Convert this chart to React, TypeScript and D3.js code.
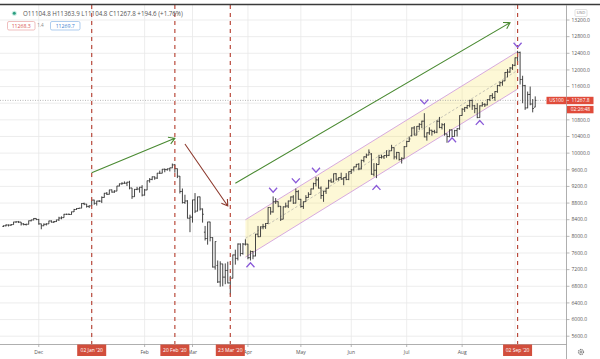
import React from 'react';
import * as d3 from 'd3';

// ---- DATA: daily bars [open, high, low, close] ----
const nov19 = [
  [8240, 8262, 8225, 8254], [8254, 8290, 8240, 8272], [8272, 8285, 8238, 8270], [8270, 8290, 8250, 8283],
  [8283, 8350, 8280, 8345], [8345, 8360, 8325, 8350], [8350, 8370, 8320, 8342], [8342, 8345, 8260, 8300],
  [8300, 8315, 8265, 8285], [8285, 8305, 8260, 8290], [8290, 8380, 8288, 8375], [8375, 8400, 8360, 8395],
  [8395, 8440, 8385, 8430], [8430, 8432, 8390, 8404],
];
const dec19 = [
  [8404, 8420, 8280, 8300], [8300, 8305, 8170, 8255], [8255, 8310, 8245, 8290], [8290, 8315, 8260, 8300],
  [8300, 8375, 8298, 8370], [8370, 8385, 8330, 8340], [8340, 8370, 8320, 8355], [8355, 8400, 8345, 8395],
  [8395, 8470, 8370, 8440], [8440, 8480, 8410, 8450], [8450, 8540, 8448, 8530], [8530, 8545, 8515, 8530],
  [8530, 8550, 8520, 8525], [8525, 8595, 8520, 8590], [8590, 8660, 8585, 8645], [8645, 8680, 8635, 8670],
  [8670, 8685, 8660, 8678], [8678, 8800, 8675, 8790], [8790, 8810, 8750, 8775], [8775, 8780, 8690, 8720],
  [8720, 8745, 8680, 8733],
];
const jan20 = [
  [8733, 8875, 8730, 8872], [8872, 8880, 8760, 8793], [8793, 8855, 8740, 8848], [8848, 8870, 8825, 8846],
  [8846, 8960, 8800, 8935], [8935, 9045, 8930, 9035], [9035, 9065, 8995, 9011], [9011, 9120, 9005, 9117],
  [9117, 9125, 9050, 9064], [9064, 9110, 9045, 9088], [9088, 9212, 9085, 9209], [9209, 9270, 9200, 9263],
  [9263, 9300, 9240, 9274], [9274, 9320, 9265, 9277], [9277, 9310, 9210, 9302], [9302, 9335, 9130, 9162],
  [9162, 9165, 8900, 8953], [8953, 9140, 8950, 9128], [9128, 9190, 9110, 9137], [9137, 9190, 9050, 9180],
  [9180, 9230, 8960, 8991],
];
const feb20 = [
  [8991, 9140, 8980, 9115], [9115, 9340, 9110, 9336], [9336, 9400, 9290, 9370], [9370, 9440, 9350, 9431],
  [9431, 9440, 9360, 9401], [9401, 9525, 9380, 9518], [9518, 9580, 9500, 9517], [9517, 9620, 9515, 9613],
  [9613, 9630, 9540, 9604], [9604, 9630, 9580, 9623], [9623, 9650, 9560, 9646], [9646, 9750, 9640, 9718],
  [9718, 9740, 9530, 9627], [9627, 9630, 9400, 9446], [9446, 9450, 9030, 9079], [9079, 9150, 8790, 8812],
  [8812, 9000, 8780, 8850], [8850, 8870, 8430, 8436], [8436, 8520, 8100, 8462],
];
const mar20 = [
  [8462, 8880, 8330, 8877], [8877, 9040, 8560, 8606], [8606, 8955, 8600, 8949], [8949, 8955, 8620, 8658],
  [8658, 8670, 8330, 8531], [8100, 8250, 7900, 7948], [7948, 8350, 7800, 8345], [8345, 8350, 7880, 7971],
  [7971, 7980, 7250, 7263], [7263, 7880, 7200, 7874], [7300, 7420, 6880, 6904], [6904, 7400, 6790, 7337],
  [7337, 7340, 6800, 7020], [7020, 7350, 6850, 7180], [7180, 7390, 6870, 6880], [6880, 7050, 6600, 6994],
  [6994, 7560, 6990, 7553], [7553, 7680, 7320, 7470], [7470, 7830, 7420, 7815], [7815, 7830, 7520, 7587],
  [7587, 7840, 7560, 7813], [7813, 7930, 7780, 7813],
];
const apr20 = [
  [7813, 7820, 7450, 7487], [7487, 7660, 7420, 7635], [7635, 7650, 7450, 7528], [7528, 8060, 7520, 8052],
  [8052, 8250, 7980, 7992], [7992, 8240, 7990, 8228], [8228, 8300, 8170, 8233], [8233, 8320, 8180, 8309],
  [8309, 8700, 8300, 8694], [8694, 8700, 8520, 8588], [8588, 8960, 8570, 8832], [8832, 8920, 8780, 8833],
  [8833, 8840, 8700, 8723], [8723, 8730, 8370, 8412], [8412, 8720, 8410, 8710], [8710, 8810, 8690, 8729],
  [8729, 8860, 8680, 8849], [8849, 8960, 8840, 8947], [8947, 8990, 8780, 8799], [8799, 9150, 8790, 9075],
  [9075, 9110, 8880, 8890],
];
const may20 = [
  [8890, 8900, 8690, 8719], [8719, 8840, 8660, 8834], [8834, 8990, 8830, 8934], [8934, 9060, 8930, 9009],
  [9009, 9150, 9000, 9140], [9140, 9290, 9130, 9268], [9268, 9430, 9200, 9357], [9357, 9420, 9150, 9159],
  [9159, 9200, 8900, 8982], [8982, 9090, 8830, 9085], [9085, 9170, 9020, 9153], [9153, 9360, 9150, 9334],
  [9334, 9390, 9290, 9306], [9306, 9510, 9300, 9505], [9505, 9520, 9340, 9376], [9376, 9420, 9340, 9413],
  [9413, 9530, 9360, 9377], [9377, 9420, 9230, 9412], [9412, 9520, 9350, 9368], [9368, 9560, 9350, 9555],
];
const jun20 = [
  [9555, 9620, 9500, 9598], [9598, 9675, 9580, 9670], [9670, 9740, 9660, 9731], [9731, 9760, 9590, 9620],
  [9620, 9845, 9610, 9824], [9824, 9920, 9780, 9912], [9912, 9990, 9880, 9953], [9953, 10090, 9950, 10020],
  [9980, 10000, 9480, 9493], [9493, 9760, 9440, 9588], [9588, 9760, 9400, 9726], [9726, 9960, 9720, 9895],
  [9895, 9960, 9870, 9910], [9910, 9950, 9860, 9943], [9943, 10070, 9890, 9946], [9946, 10060, 9930, 10056],
  [10056, 10200, 10050, 10131], [10131, 10140, 9850, 9909], [9909, 10030, 9850, 10017], [10017, 10020, 9820, 9849],
  [9849, 9900, 9750, 9875], [9875, 10170, 9870, 10156],
];
const jul20 = [
  [10156, 10300, 10150, 10279], [10279, 10400, 10270, 10341], [10420, 10620, 10400, 10605], [10605, 10650, 10430, 10433],
  [10433, 10650, 10430, 10644], [10644, 10720, 10560, 10691], [10691, 10780, 10600, 10768], [10768, 10960, 10380, 10391],
  [10391, 10500, 10300, 10488], [10488, 10620, 10440, 10550], [10550, 10560, 10420, 10519], [10519, 10560, 10470, 10503],
  [10503, 10790, 10480, 10767], [10767, 10870, 10600, 10617], [10617, 10720, 10570, 10683], [10683, 10720, 10420, 10461],
  [10461, 10470, 10250, 10399], [10399, 10570, 10380, 10559], [10559, 10570, 10390, 10401], [10401, 10560, 10400, 10542],
  [10542, 10600, 10400, 10587], [10587, 10910, 10560, 10905],
];
const aug20 = [
  [10905, 11080, 10900, 11055], [11055, 11110, 10990, 11094], [11094, 11160, 11060, 11144], [11144, 11280, 11100, 11267],
  [11267, 11290, 11040, 11139], [11139, 11160, 10960, 11070], [11070, 11200, 10840, 10855], [10855, 11150, 10850, 11137],
  [11137, 11230, 11120, 11172], [11172, 11200, 11110, 11159], [11159, 11300, 11150, 11289], [11289, 11390, 11250, 11381],
  [11381, 11440, 11300, 11337], [11337, 11490, 11260, 11480], [11480, 11640, 11450, 11626], [11626, 11720, 11600, 11693],
  [11693, 11740, 11620, 11737], [11737, 11950, 11730, 11940], [11940, 12020, 11820, 11949], [11949, 12070, 11930, 12046],
  [12046, 12140, 12000, 12111],
];
const sep20 = [
  [12111, 12300, 12090, 12292], [12292, 12460, 12180, 12420], [12420, 12440, 11650, 11771], [11771, 11860, 11200, 11622],
  [11622, 11640, 11040, 11087], [11087, 11480, 11080, 11410], [11410, 11600, 11150, 11181], [11181, 11300, 10980, 11073.2],
  [11104.8, 11363.9, 11104.8, 11267.8],
];

const firstDay = '2019-11-11';
const lastDay = '2020-09-14';
const holidays = ['2019-11-28', '2019-12-25', '2020-01-01', '2020-01-20', '2020-02-17', '2020-04-10', '2020-05-25', '2020-07-03', '2020-09-07'];

const yTicks = d3.range(5600, 13201, 400);
const markedDates = ['2020-01-02', '2020-02-20', '2020-03-23', '2020-09-02'];

// channel: [date, top, bottom]
const channelStart: [string, number, number] = ['2020-03-31', 8400, 7500];
const channelEnd: [string, number, number] = ['2020-09-02', 12440, 11540];

// arrows: [[date, price], [date, price]]
const arrowsGreen: [string, number][][] = [
  [['2020-01-02', 9530], ['2020-02-20', 10357]],
  [['2020-03-25', 9275], ['2020-08-28', 13136]],
];
const arrowsBrown: [string, number][][] = [
  [['2020-02-26', 10220], ['2020-03-20', 8730]],
];

const markersAbove: [string, number][] = [
  ['2020-04-16', 9114], ['2020-04-29', 9342], ['2020-05-11', 9595], ['2020-07-13', 11237], ['2020-09-02', 12600],
];
const markersBelow: [string, number][] = [
  ['2020-04-02', 7311], ['2020-06-15', 9169], ['2020-07-28', 10316], ['2020-08-12', 10732],
];

const lastPrice = 11267.8;
const headerText = 'O11104.8 H11363.9 L11104.8 C11267.8 +194.6 (+1.76%)';
const bidText = '11268.3';
const spreadText = '1.4';
const askText = '11269.7';
const symbol = 'US100';
const countdown = '02:26:48';

// ---- BUILD ----
const parse = d3.utcParse('%Y-%m-%d');
const keyFmt = d3.utcFormat('%Y-%m-%d');
const labelFmt = d3.utcFormat("%d %b '%y");
const monthFmt = d3.utcFormat('%b');

const dates = d3.utcDay
  .range(parse(firstDay) as Date, d3.utcDay.offset(parse(lastDay) as Date, 1))
  .filter((d) => d.getUTCDay() % 6 !== 0 && !holidays.includes(keyFmt(d)));
const ohlc = [...nov19, ...dec19, ...jan20, ...feb20, ...mar20, ...apr20, ...may20, ...jun20, ...jul20, ...aug20, ...sep20];
const n = Math.min(dates.length, ohlc.length);
const bars = d3.range(n).map((i) => ({
  date: dates[i], key: keyFmt(dates[i]), o: ohlc[i][0], h: ohlc[i][1], l: ohlc[i][2], c: ohlc[i][3],
}));
const idxOf = (k: string) => bars.findIndex((b) => b.key === k);

const PLOT_R = 566.5;
const PLOT_T = 5;
const PLOT_B = 344.5;

const x = d3.scaleLinear().domain([0, n - 1]).range([3.5, 3.5 + 2.52 * (n - 1)]);
const y = d3.scaleLinear().domain([5600, 13200]).range([336.2, 20]);

const monthStarts = bars
  .map((b, i) => ({ b, i }))
  .filter(({ b, i }) => i > 0 && b.date.getUTCMonth() !== bars[i - 1].date.getUTCMonth());
const markedX = markedDates.map((k) => x(idxOf(k)));
// month labels that are fully hidden under a date label box are not drawn
const visibleMonths = monthStarts.filter(({ i }) => markedX.every((mx) => Math.abs(x(i) - mx) > 9));

const priceY = y(lastPrice);
const visibleYTicks = yTicks.filter((t) => y(t) < priceY - 6 || y(t) > priceY + 15);

const FONT = "'Open Sans', 'Noto Sans', sans-serif";

function arrowPath(a: [string, number][]) {
  const x1 = x(idxOf(a[0][0])), y1 = y(a[0][1]);
  const x2 = x(idxOf(a[1][0])), y2 = y(a[1][1]);
  const ang = Math.atan2(y2 - y1, x2 - x1);
  const L = 7, th = 0.55;
  const hx1 = x2 - L * Math.cos(ang - th), hy1 = y2 - L * Math.sin(ang - th);
  const hx2 = x2 - L * Math.cos(ang + th), hy2 = y2 - L * Math.sin(ang + th);
  return `M${x1},${y1}L${x2},${y2}M${hx1},${hy1}L${x2},${y2}L${hx2},${hy2}`;
}

export default function App() {
  const cs = idxOf(channelStart[0]);
  const ce = idxOf(channelEnd[0]);
  const chPoly = [
    [x(cs), y(channelStart[1])], [x(ce), y(channelEnd[1])],
    [x(ce), y(channelEnd[2])], [x(cs), y(channelStart[2])],
  ];
  const barPath = bars
    .map((b, i) => {
      const cx = x(i);
      return `M${cx},${y(b.h)}V${y(b.l)}M${cx - 1.2},${y(b.o)}H${cx}M${cx},${y(b.c)}H${cx + 1.2}`;
    })
    .join('');

  return (
    <svg width={600} height={359} style={{ position: 'fixed', left: 0, top: 0, background: '#fff' }} fontFamily={FONT}>
      <rect x={0} y={0} width={600} height={359} fill="#fff" />
      <defs>
        <clipPath id="plotclip">
          <rect x={0} y={PLOT_T} width={PLOT_R} height={PLOT_B - PLOT_T} />
        </clipPath>
      </defs>

      <g clipPath="url(#plotclip)">
        {yTicks.map((t) => (
          <line key={'h' + t} x1={0} x2={PLOT_R} y1={y(t)} y2={y(t)} stroke="#e8e8e8" strokeWidth={0.8} />
        ))}
        {monthStarts.map(({ i }) => (
          <line key={'v' + i} x1={x(i)} x2={x(i)} y1={PLOT_T} y2={PLOT_B} stroke="#e8e8e8" strokeWidth={0.8} />
        ))}

        {/* channel */}
        <polygon points={chPoly.map((p) => p.join(',')).join(' ')} fill="#f7e25a" fillOpacity={0.25} stroke="none" />
        <line x1={chPoly[0][0]} y1={chPoly[0][1]} x2={chPoly[1][0]} y2={chPoly[1][1]} stroke="#d3a0dc" strokeWidth={0.9} />
        <line x1={chPoly[3][0]} y1={chPoly[3][1]} x2={chPoly[2][0]} y2={chPoly[2][1]} stroke="#d3a0dc" strokeWidth={0.9} />
        <line
          x1={x(cs)} y1={y((channelStart[1] + channelStart[2]) / 2)}
          x2={x(ce)} y2={y((channelEnd[1] + channelEnd[2]) / 2)}
          stroke="#a0a0a0" strokeWidth={0.6} strokeDasharray="2.5 2"
        />

        {/* last price line */}
        <line x1={0} x2={PLOT_R} y1={priceY} y2={priceY} stroke="#9a9a9a" strokeWidth={0.7} strokeDasharray="1 1.5" />

        {/* bars */}
        <path d={barPath} stroke="#3a3a3a" strokeWidth={0.95} fill="none" />

        {/* dashed verticals */}
        {markedX.map((mx, j) => (
          <line key={'d' + j} x1={mx} x2={mx} y1={PLOT_T} y2={PLOT_B}
            stroke="#b9493b" strokeWidth={1.2} strokeDasharray="4 4" />
        ))}

        {/* arrows */}
        {arrowsGreen.map((a, j) => (
          <path key={'ag' + j} d={arrowPath(a)} stroke="#4a8a32" strokeWidth={1.1} fill="none" />
        ))}
        {arrowsBrown.map((a, j) => (
          <path key={'ab' + j} d={arrowPath(a)} stroke="#8e3b2f" strokeWidth={1.1} fill="none" />
        ))}

        {/* markers */}
        {markersAbove.map(([k, p]) => {
          const cx = x(idxOf(k)), cy = y(p);
          return <path key={'ma' + k} d={`M${cx - 4},${cy - 2.2}L${cx},${cy + 2.2}L${cx + 4},${cy - 2.2}`} stroke="#8a5ad8" strokeWidth={1.3} fill="none" />;
        })}
        {markersBelow.map(([k, p]) => {
          const cx = x(idxOf(k)), cy = y(p);
          return <path key={'mb' + k} d={`M${cx - 4},${cy + 2.2}L${cx},${cy - 2.2}L${cx + 4},${cy + 2.2}`} stroke="#8a5ad8" strokeWidth={1.3} fill="none" />;
        })}
      </g>

      {/* top border */}
      <line x1={0} x2={600} y1={4.5} y2={4.5} stroke="#3a3a3a" strokeWidth={1.4} />

      {/* axes lines */}
      <line x1={0} x2={PLOT_R} y1={PLOT_B} y2={PLOT_B} stroke="#9a9a9a" strokeWidth={0.8} />
      <line x1={PLOT_R} x2={PLOT_R} y1={PLOT_T} y2={359} stroke="#9a9a9a" strokeWidth={0.8} />

      {/* right axis */}
      {visibleYTicks.map((t) => (
        <g key={'yt' + t}>
          <line x1={PLOT_R} x2={PLOT_R + 3} y1={y(t)} y2={y(t)} stroke="#9a9a9a" strokeWidth={0.7} />
          <text x={PLOT_R + 5} y={y(t)} dy="0.35em" fontSize={5} fill="#555">{d3.format('.1f')(t)}</text>
        </g>
      ))}

      {/* bottom axis */}
      {monthStarts.map(({ i }) => (
        <line key={'tk' + i} x1={x(i)} x2={x(i)} y1={PLOT_B} y2={PLOT_B + 2.5} stroke="#9a9a9a" strokeWidth={0.7} />
      ))}
      {visibleMonths.map(({ b, i }) => (
        <text key={'mt' + i} x={x(i)} y={353.5} textAnchor="middle" fontSize={5} fill="#555">
          {b.date.getUTCMonth() === 0 ? String(b.date.getUTCFullYear()) : monthFmt(b.date)}
        </text>
      ))}
      {markedDates.map((k, j) => {
        const cx = markedX[j];
        return (
          <g key={'ml' + k}>
            <rect x={cx - 14.5} y={PLOT_B} width={29} height={11.5} fill="#d24e3c" />
            <text x={cx} y={351.6} textAnchor="middle" fontSize={5} fill="#fff">{labelFmt(parse(k) as Date)}</text>
          </g>
        );
      })}

      {/* last price labels */}
      <rect x={546.5} y={priceY - 3.6} width={20} height={7.4} fill="#e04b3a" />
      <text x={556.5} y={priceY} dy="0.35em" textAnchor="middle" fontSize={4.8} fill="#fff">{symbol}</text>
      <rect x={PLOT_R + 0.5} y={priceY - 3.6} width={26.5} height={7.4} fill="#e04b3a" />
      <line x1={PLOT_R} x2={PLOT_R + 2.5} y1={priceY} y2={priceY} stroke="#fff" strokeWidth={0.6} />
      <text x={580.5} y={priceY} dy="0.35em" textAnchor="middle" fontSize={4.9} fill="#fff">{d3.format('.1f')(lastPrice)}</text>
      <rect x={PLOT_R + 0.5} y={priceY + 5.5} width={26.5} height={7.4} fill="#e04b3a" />
      <text x={580.5} y={priceY + 9.2} dy="0.35em" textAnchor="middle" fontSize={4.9} fill="#fff">{countdown}</text>

      {/* USD badge */}
      <rect x={575} y={9.5} width={12} height={7} rx={1} fill="#fff" stroke="#cfcfcf" strokeWidth={0.6} />
      <text x={581} y={13} dy="0.35em" textAnchor="middle" fontSize={4.2} fill="#777">USD</text>

      {/* gear */}
      <circle cx={581} cy={352} r={2.6} fill="none" stroke="#444" strokeWidth={0.9} strokeDasharray="1.2 0.6" />
      <circle cx={581} cy={352} r={1.1} fill="none" stroke="#444" strokeWidth={0.6} />

      {/* header */}
      <circle cx={14.3} cy={13.3} r={2.6} fill="#cfeee6" />
      <circle cx={14.3} cy={13.3} r={1.5} fill="#2a9d7f" />
      <text x={23} y={13.6} dy="0.35em" fontSize={6.2} fill="#555">{headerText}</text>

      <rect x={7.5} y={21.5} width={27.5} height={8.5} rx={1.5} fill="#fff" stroke="#e8a3a3" strokeWidth={0.7} />
      <text x={21.25} y={25.75} dy="0.35em" textAnchor="middle" fontSize={5.2} fill="#d9534f">{bidText}</text>
      <text x={40.5} y={25.75} dy="0.35em" textAnchor="middle" fontSize={4.6} fill="#888">{spreadText}</text>
      <rect x={50.5} y={21.5} width={29.5} height={8.5} rx={1.5} fill="#fff" stroke="#8cb8e6" strokeWidth={0.7} />
      <text x={65.25} y={25.75} dy="0.35em" textAnchor="middle" fontSize={5.2} fill="#3d7fd1">{askText}</text>
    </svg>
  );
}
